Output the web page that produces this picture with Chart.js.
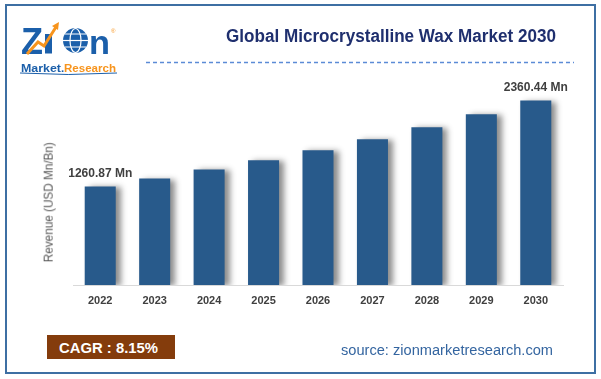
<!DOCTYPE html>
<html>
<head>
<meta charset="utf-8">
<script src="https://cdn.jsdelivr.net/npm/chart.js@4.4.1/dist/chart.umd.min.js"></script>
<style>
  html, body { margin:0; padding:0; background:#fff; }
  body { width:601px; height:379px; position:relative; overflow:hidden; font-family:"Liberation Sans", Arial, sans-serif; }
  #frame { position:absolute; left:5px; top:4px; width:587px; height:366px; border:2px solid #3D6FA3; }
  #wrap { position:absolute; left:0; top:0; width:601px; height:379px; }
  .fit { position:absolute; white-space:nowrap; transform-origin:0 50%; line-height:1; }
  #title { color:#1F2F6E; font-weight:bold; font-size:17.5px; }
  #ytitle { position:absolute; color:#595959; font-size:12.5px; white-space:nowrap; transform-origin:center center; line-height:1; }
  #cagr { position:absolute; left:47px; top:335px; width:128px; height:24px; background:#843C0C; }
  #cagrText { color:#fff; font-weight:bold; font-size:15px; }
  #source { color:#3465A0; font-size:14px; }
</style>
</head>
<body>
<div id="frame"></div>
<div id="wrap"><canvas id="c" width="601" height="379"></canvas></div>

<svg id="logo" style="position:absolute;left:0;top:0" width="140" height="80">
  <text x="21" y="53.5" font-family="Liberation Sans, Arial" font-weight="bold" font-size="36" fill="#1B5FAA" textLength="22" lengthAdjust="spacingAndGlyphs">Z</text>
  <rect x="45" y="34" width="7" height="19.5" fill="#1B5FAA"/>
  <polyline points="27,54 38,42 44,46 56,27" fill="none" stroke="#F7941D" stroke-width="3"/>
  <polygon points="52,26 59,22 58,30" fill="#F7941D"/>
  <circle cx="75.5" cy="40.5" r="12.5" fill="#1B5FAA"/>
  <ellipse cx="75.5" cy="40.5" rx="5.5" ry="12" fill="none" stroke="#fff" stroke-width="1.2"/>
  <line x1="63" y1="40.5" x2="88" y2="40.5" stroke="#fff" stroke-width="1.2"/>
  <line x1="65" y1="34" x2="86" y2="34" stroke="#fff" stroke-width="1"/>
  <line x1="65" y1="47" x2="86" y2="47" stroke="#fff" stroke-width="1"/>
  <text x="89" y="53.5" font-family="Liberation Sans, Arial" font-weight="bold" font-size="34" fill="#1B5FAA" textLength="21" lengthAdjust="spacingAndGlyphs">n</text>
  <text x="111" y="33" font-family="Liberation Sans, Arial" font-size="6" fill="#F7941D">®</text>
  <text x="21" y="71.5" font-family="Liberation Sans, Arial" font-weight="bold" font-size="11.5" fill="#1B5FAA" textLength="40" lengthAdjust="spacingAndGlyphs">Market</text>
  <text x="61" y="71.5" font-family="Liberation Sans, Arial" font-weight="bold" font-size="11.5" fill="#1B5FAA">.</text>
  <text x="64" y="71.5" font-family="Liberation Sans, Arial" font-weight="bold" font-size="11.5" fill="#F7941D" textLength="52" lengthAdjust="spacingAndGlyphs">Research</text>
  <path d="M20,73 Q68,76 117,73" fill="none" stroke="#1B5FAA" stroke-width="1"/>
</svg>
<svg style="position:absolute;left:0;top:0;pointer-events:none" width="601" height="80">
  <line x1="146" y1="62.5" x2="574" y2="62.5" stroke="#5B8BD6" stroke-width="1.3" stroke-dasharray="4 3"/>
</svg>

<div id="title" class="fit" data-x="226" data-y="37" data-w="330">Global Microcrystalline Wax Market 2030</div>
<div id="ytitle">Revenue (USD Mn/Bn)</div>
<div id="cagr"></div>
<div id="cagrText" class="fit" data-x="59" data-y="347.5" data-w="99">CAGR : 8.15%</div>
<div id="source" class="fit" data-x="341" data-y="350" data-w="212">source: zionmarketresearch.com</div>

<script>
const categories = ["2022","2023","2024","2025","2026","2027","2028","2029","2030"];
const revenue = [1260.87, 1362, 1478, 1596, 1724, 1865, 2018, 2185, 2360.44];
const valueLabels = ["1260.87 Mn", "", "", "", "", "", "", "", "2360.44 Mn"];

document.querySelectorAll('.fit').forEach(el => {
  const r = el.getBoundingClientRect();
  const tw = parseFloat(el.dataset.w);
  el.style.left = el.dataset.x + 'px';
  el.style.top = (parseFloat(el.dataset.y) - r.height / 2) + 'px';
  el.style.transform = 'scaleX(' + (tw / r.width) + ')';
});
(function(){
  const el = document.getElementById('ytitle');
  const r = el.getBoundingClientRect();
  const s = 120 / r.width;
  el.style.left = (49 - r.width / 2) + 'px';
  el.style.top = (202.7 - r.height / 2) + 'px';
  el.style.transform = 'rotate(-90deg) scaleX(' + s + ')';
})();

const shadowPlugin = {
  id: 'barShadow',
  beforeDatasetsDraw(chart) {
    const ctx = chart.ctx;
    ctx.save();
    ctx.shadowColor = 'rgba(0,0,0,0.45)';
    ctx.shadowBlur = 6;
    ctx.shadowOffsetX = 5;
    ctx.shadowOffsetY = 1;
  },
  afterDatasetsDraw(chart) {
    chart.ctx.restore();
  }
};

const labelPlugin = {
  id: 'valueLabels',
  afterDraw(chart) {
    const ctx = chart.ctx;
    const meta = chart.getDatasetMeta(0);
    ctx.save();
    ctx.font = 'bold 12px "Liberation Sans", Arial, sans-serif';
    ctx.fillStyle = '#404040';
    ctx.textAlign = 'center';
    ctx.textBaseline = 'middle';
    meta.data.forEach((bar, i) => {
      if (!valueLabels[i]) return;
      ctx.fillText(valueLabels[i], bar.x, bar.y - 12.5);
    });
    ctx.restore();
  }
};

new Chart(document.getElementById('c'), {
  type: 'bar',
  data: {
    labels: categories,
    datasets: [{
      data: revenue,
      backgroundColor: '#285A8B',
      borderWidth: 0,
      categoryPercentage: 1,
      barPercentage: 0.57
    }]
  },
  options: {
    responsive: false,
    animation: false,
    events: [],
    layout: { padding: { left: 73, right: 38, top: 74, bottom: 64 } },
    plugins: { legend: { display: false }, tooltip: { enabled: false }, title: { display: false } },
    scales: {
      y: { display: false, min: 0, max: 2700 },
      x: {
        afterFit(s) { s.height = 30; },
        grid: { display: false, drawTicks: false },
        border: { display: true, color: '#D9D9D9', width: 1 },
        ticks: {
          padding: 9,
          color: '#404040',
          font: { family: '"Liberation Sans", Arial, sans-serif', size: 11, weight: 'bold' }
        }
      }
    }
  },
  plugins: [shadowPlugin, labelPlugin]
});
</script>
</body>
</html>
